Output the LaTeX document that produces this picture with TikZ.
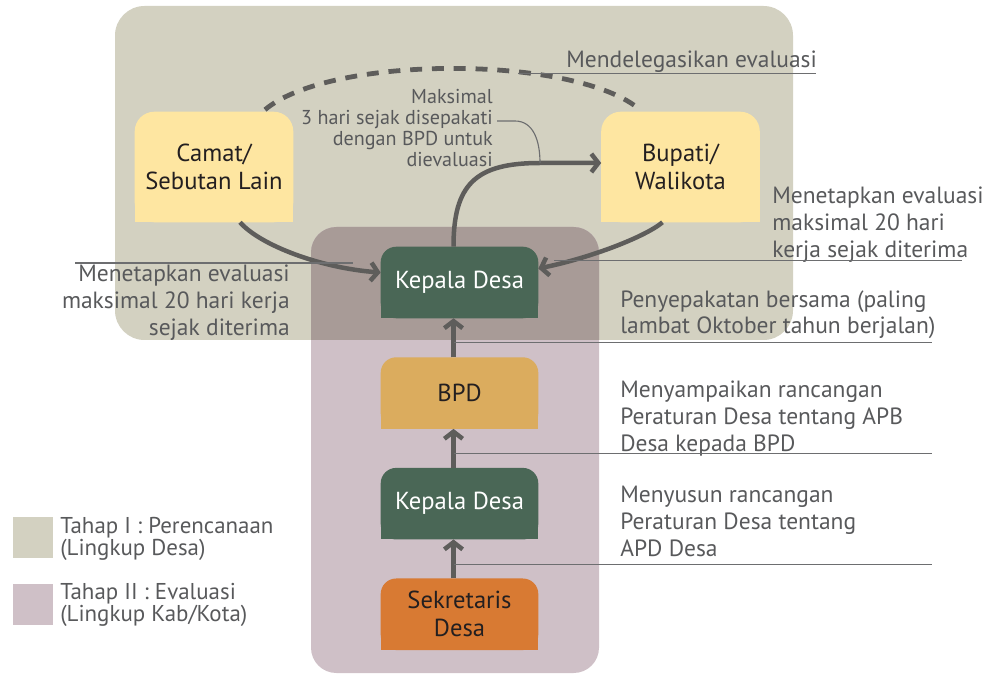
\documentclass[tikz,border=0pt]{standalone}
\usepackage{fontspec}
\setmainfont{PT Sans}
\usetikzlibrary{positioning,calc,arrows.meta}
\definecolor{zoneBeige}{HTML}{D3D1C1}
\definecolor{zonePink}{HTML}{CFC0C7}
\definecolor{zoneMix}{HTML}{A89B97}
\definecolor{tabYellow}{HTML}{FEE6A1}
\definecolor{tabGreen}{HTML}{4A6756}
\definecolor{tabGold}{HTML}{DBAC5E}
\definecolor{tabOrange}{HTML}{D87A33}
\definecolor{tabInk}{HTML}{231F20}
\definecolor{arrowGray}{HTML}{5E5D5B}
\definecolor{noteGray}{HTML}{58595B}
\definecolor{leaderGray}{HTML}{6D6E70}
\pgfdeclarelayer{zones}
\pgfdeclarelayer{boxes}
\pgfsetlayers{zones,boxes,main}
\newcommand\tabfill[3]{% node, colour, corner radius
  \begin{pgfonlayer}{boxes}
    \fill[#2, rounded corners=#3] (#1.south west) rectangle (#1.north east);
    \fill[#2] (#1.south west) rectangle (#1.east);
  \end{pgfonlayer}}
\tikzset{
  tab box/.style={
    rectangle, inner sep=0pt,
    minimum width=3.925cm, minimum height=1.775cm,
    align=center, text=#1,
    font=\fontsize{17.5}{20}\selectfont,
  },
  big tab/.style={tab box=#1, minimum width=3.95cm, minimum height=2.75cm},
  flow arrow/.style={
    draw=arrowGray, line width=3.2pt,
    -{Straight Barb[length=5pt,width=13pt]},
  },
  deleg arc/.style={
    draw=arrowGray, line width=3.4pt,
    dash pattern=on 8.5pt off 7pt,
  },
  leader/.style={draw=leaderGray, line width=0.8pt},
  note/.style={
    inner sep=0pt, text=noteGray,
    font=\fontsize{16.7}{19}\selectfont,
  },
  small note/.style={note, font=\fontsize{14.3}{15}\selectfont},
  legend note/.style={note, align=left, anchor=north west,
    font=\fontsize{16.3}{15.5}\selectfont},
  swatch/.style={rectangle, fill=#1, minimum size=1cm, inner sep=0pt},
}
\begin{document}
\begin{tikzpicture}[x=0.025cm, y=-0.025cm]
\useasboundingbox (0,0) rectangle (987,675);

% --- zones: Tahap I, Tahap II and their overlap ---
\begin{pgfonlayer}{zones}
  \fill[zoneBeige, rounded corners=21pt] (115,6) rectangle (793,340);
  \fill[zonePink, rounded corners=18pt] (311,227) rectangle (599,673);
  \begin{scope}
    \clip[rounded corners=21pt] (115,6) rectangle (793,340);
    \fill[zoneMix, rounded corners=18pt] (311,227) rectangle (599,673);
  \end{scope}
\end{pgfonlayer}

% --- actors ---
\node[big tab=tabInk] (camat) at (214,167) {Camat/\\Sebutan Lain};
\node[big tab=tabInk] (bupati) at (680.5,167) {Bupati/\\Walikota};
\node[tab box=white] (kd1) at (459.5,282.5) {Kepala Desa};
\node[tab box=tabInk, below=0.975cm of kd1] (bpd) {BPD};
\node[tab box=white, below=0.975cm of bpd] (kd2) {Kepala Desa};
\node[tab box=tabInk, below=0.975cm of kd2] (sekdes) {Sekretaris\\Desa};
\tabfill{camat}{tabYellow}{14pt}
\tabfill{bupati}{tabYellow}{14pt}
\tabfill{kd1}{tabGreen}{11pt}
\tabfill{bpd}{tabGold}{11pt}
\tabfill{kd2}{tabGreen}{11pt}
\tabfill{sekdes}{tabOrange}{11pt}

% --- flow ---
\draw[flow arrow] ($(sekdes.north)+(-6,0)$) -- ($(kd2.south)+(-6,0)$);
\draw[flow arrow] ($(kd2.north)+(-6,0)$) -- ($(bpd.south)+(-6,0)$);
\draw[flow arrow] ($(bpd.north)+(-6,0)$) -- ($(kd1.south)+(-6,0)$);
\draw[flow arrow] ($(kd1.north)+(-6,0)$) .. controls ($(kd1.north)+(-6,-62)$) and (475,163)
  .. (540,163) coordinate (bend) -- (bend -| bupati.west);
\draw[flow arrow] ($(camat.south)+(26,0)$) .. controls (260,245) and (320,268)
  .. ($(kd1.west)+(0,-10)$);
\draw[flow arrow] ($(bupati.south)+(-18,0)$) .. controls (645,237) and (590,258)
  .. ($(kd1.east)+(0,-14)$);
\draw[deleg arc] ($(camat.north)+(51,-2)$) .. controls (330,55) and (570,55)
  .. ($(bupati.north)+(-43,-4)$) coordinate[pos=0.65] (delegFoot);

% --- notes ---
\node[note, anchor=north west] (noteDeleg) at (566,51) {Mendelegasikan evaluasi};
\draw[leader] ($(delegFoot)+(0,2)$) -- +(298,0);

\node[small note, align=right, anchor=north east] (noteMaks) at (493,89)
  {Maksimal\\3 hari sejak disepakati\\dengan BPD untuk\\dievaluasi};
\draw[leader] (497,121) -- (515,121) .. controls (533,121) and (540,140) .. (bend);

\node[note, align=right, anchor=north east] (noteEvalL) at (290,265)
  {Menetapkan evaluasi\\maksimal 20 hari kerja\\sejak diterima};
\draw[leader] ($(kd1.west)+(-28,-19.5)$) -- +(-278,0);

\node[note, align=left, anchor=north west] (noteEvalR) at (772,187)
  {Menetapkan evaluasi\\maksimal 20 hari\\kerja sejak diterima};
\draw[leader] ($(kd1.east)+(16,-22)$) -- +(408,0);

\node[note, align=left, anchor=north west] (noteSepakat) at (620,290)
  {Penyepakatan bersama (paling\\lambat Oktober tahun berjalan)};
\draw[leader] ($(kd1.south)+(-6,24)$) -- +(478,0);

\node[note, align=left, anchor=north west] (noteSampai) at (620,381)
  {Menyampaikan rancangan\\Peraturan Desa tentang APB\\Desa kepada BPD};
\draw[leader] ($(bpd.south)+(-6,25)$) -- +(478,0);

\node[note, align=left, anchor=north west] (noteSusun) at (620,486)
  {Menyusun rancangan\\Peraturan Desa tentang\\APD Desa};
\draw[leader] ($(kd2.south)+(-6,25)$) -- +(478,0);

% --- legend ---
\node[swatch=zoneBeige] (legI) at (33,537.5) {};
\node[swatch=zonePink] (legII) at (33,604.5) {};
\node[legend note] (legIText) at (60,517) {Tahap I : Perencanaan\\(Lingkup Desa)};
\node[legend note] (legIIText) at (60,583) {Tahap II : Evaluasi\\(Lingkup Kab/Kota)};

\end{tikzpicture}
\end{document}
